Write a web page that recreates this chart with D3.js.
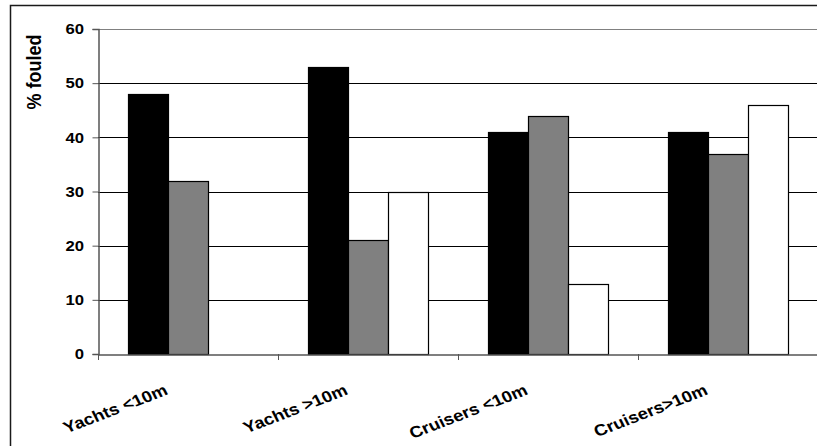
<!DOCTYPE html>
<html>
<head>
<meta charset="utf-8">
<script src="https://cdn.jsdelivr.net/npm/d3@7/dist/d3.min.js"></script>
<style>
  html, body { margin: 0; padding: 0; background: #fff; }
  svg { display: block; }
  text { font-family: "Liberation Sans", Arial, sans-serif; font-weight: bold; fill: #000; }
</style>
</head>
<body>
<svg id="chart" width="817" height="446"></svg>
<script>
const categories = ["Yachts <10m", "Yachts >10m", "Cruisers <10m", "Cruisers>10m"];
const seriesNames = ["Series 1", "Series 2", "Series 3"];
const series1 = [48, 53, 41, 41];
const series2 = [32, 21, 44, 37];
const series3 = [null, 30, 13, 46];
const yTicks = [0, 10, 20, 30, 40, 50, 60];
const seriesColors = ["#000000", "#808080", "#ffffff"];
const yTitle = "% fouled";

(function () {
const allSeries = [series1, series2, series3];
const svg = d3.select("#chart");
const mLeft = 98, mTop = 29, mBottom = 354, mRight = 818;
const SX = 1.15;

// outer chart border (cropped at right and bottom)
svg.append("rect").attr("x", 10.5).attr("y", 5.5).attr("width", 830).attr("height", 460)
  .attr("fill", "#fff").attr("stroke", "#1a1a1a").attr("stroke-width", 1.5);

const x0 = d3.scaleBand().domain(categories).range([mLeft, mRight]).paddingInner(0).paddingOuter(0);
const x1 = d3.scaleBand().domain(seriesNames).range([0, x0.bandwidth()]).paddingInner(0).paddingOuter(0.75);
const y = d3.scaleLinear().domain([0, 60]).range([mBottom, mTop]);

// gridlines
svg.append("g").selectAll("line").data(yTicks.filter(d => d > 0)).join("line")
  .attr("x1", mLeft).attr("x2", mRight)
  .attr("y1", d => Math.round(y(d)) + 0.5).attr("y2", d => Math.round(y(d)) + 0.5)
  .attr("stroke", d => d === 60 ? "#808080" : "#000").attr("stroke-width", 1);

// bars
const rows = [];
categories.forEach((c, i) => {
  allSeries.forEach((s, j) => {
    if (s[i] !== null) rows.push({cat: c, ser: seriesNames[j], v: s[i], color: seriesColors[j]});
  });
});
svg.append("g").selectAll("rect").data(rows).join("rect")
  .attr("x", d => Math.round(x0(d.cat) + x1(d.ser)) + 0.5)
  .attr("y", d => Math.round(y(d.v)) + 0.5)
  .attr("width", x1.bandwidth())
  .attr("height", d => Math.round(y(0)) - Math.round(y(d.v)))
  .attr("fill", d => d.color)
  .attr("stroke", "#000").attr("stroke-width", 1.2);

// y axis
const yAxis = svg.append("g").attr("transform", `translate(${mLeft + 0.5},0)`)
  .call(d3.axisLeft(y).tickValues(yTicks).tickSize(6).tickFormat(""));
yAxis.select(".domain").attr("stroke", "#555").attr("stroke-width", 1.5);
yAxis.selectAll(".tick line").attr("stroke", "#555");

svg.append("g").selectAll("text").data(yTicks).join("text")
  .attr("transform", d => `translate(84,${y(d)}) scale(${SX},1)`)
  .attr("text-anchor", "end").attr("dy", "0.36em")
  .style("font-size", "14.5px")
  .text(d => d);

// x axis
const xAxis = svg.append("g").attr("transform", `translate(0,${Math.round(mBottom) + 0.5})`)
  .call(d3.axisBottom(x0).tickSize(0).tickFormat(""));
xAxis.select(".domain").attr("stroke", "#555").attr("stroke-width", 1.5);
const bounds = categories.map(c => x0(c)).concat([mRight]);
svg.append("g").selectAll("line").data(bounds).join("line")
  .attr("x1", d => Math.round(d) + 0.5).attr("x2", d => Math.round(d) + 0.5)
  .attr("y1", mBottom).attr("y2", mBottom + 6)
  .attr("stroke", "#555").attr("stroke-width", 1);

svg.append("g").selectAll("text").data(categories).join("text")
  .attr("transform", d => `translate(${x0(d) + x0.bandwidth() / 2 - 19},394) scale(${SX},1) rotate(-24)`)
  .attr("text-anchor", "end")
  .style("font-size", "16px")
  .text(d => d);

// y title
svg.append("text")
  .attr("transform", `translate(41,72) scale(${SX},1) rotate(-90)`)
  .attr("text-anchor", "middle")
  .style("font-size", "18px")
  .text(yTitle);
})();
</script>
</body>
</html>
